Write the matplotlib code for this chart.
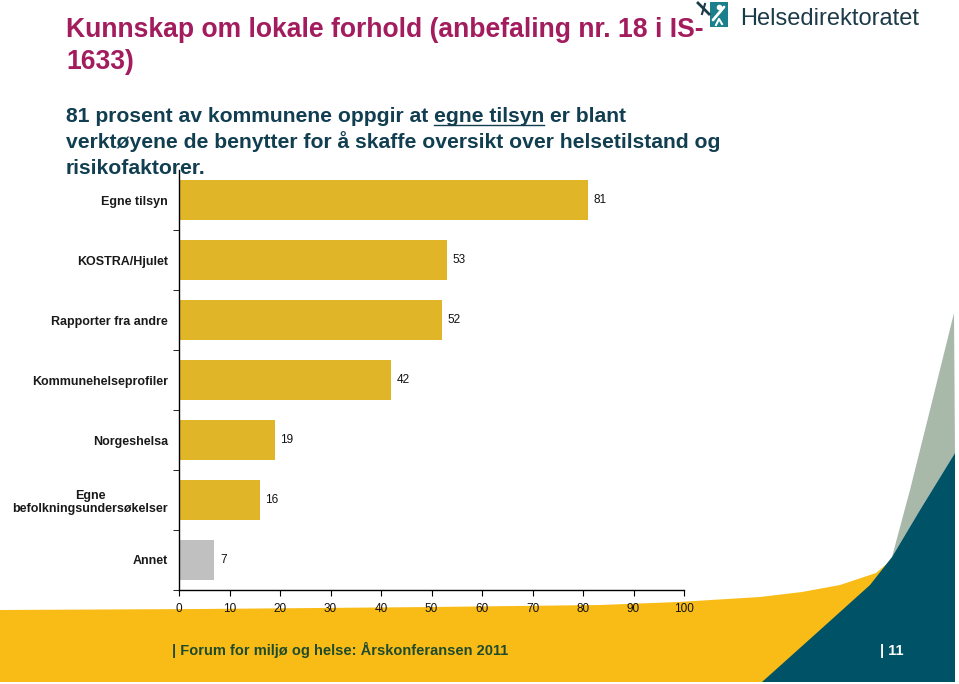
import matplotlib
matplotlib.use("Agg")
import matplotlib.pyplot as plt
from matplotlib.patches import Polygon, Rectangle
from matplotlib.ticker import FixedLocator

# data
categories = ["Egne tilsyn", "KOSTRA/Hjulet", "Rapporter fra andre",
              "Kommunehelseprofiler", "Norgeshelsa",
              "Egne\nbefolkningsundersøkelser", "Annet"]
values = [81, 53, 52, 42, 19, 16, 7]
bar_colors = ["#E0B628"] * 6 + ["#C0C0C0"]
xticks = list(range(0, 101, 10))

title_lines = ["Kunnskap om lokale forhold (anbefaling nr. 18 i IS-", "1633)"]
footer_left = "| Forum for miljø og helse: Årskonferansen 2011"
footer_right = "| 11"

font = ["Liberation Sans", "DejaVu Sans"]

W, H = 959, 684
fig = plt.figure(figsize=(W / 100, H / 100), dpi=100)

# background decoration in pixel coords
bg = fig.add_axes([0, 0, 1, 1], zorder=0)
bg.set_xlim(0, W)
bg.set_ylim(H, 0)
bg.axis("off")
yellow = [(0, 610), (200, 609), (432, 607), (600, 605), (678, 602), (760, 597),
          (802, 592), (840, 585), (876, 573), (895, 557), (955, 557), (955, 682), (0, 682)]
teal = [(762, 682), (820, 630), (870, 585), (892, 557), (920, 510), (955, 453), (955, 682)]
grey = [(892, 557), (910, 490), (930, 410), (954, 313), (955, 453), (920, 510)]
bg.add_patch(Polygon(yellow, closed=True, color="#F9BC17", lw=0))
bg.add_patch(Polygon(grey, closed=True, color="#A8B8A9", lw=0))
bg.add_patch(Polygon(teal, closed=True, color="#005366", lw=0))

# logo
bg.add_patch(Rectangle((710, 2), 18, 25, color="#1B7F8C", lw=0))
bg.plot([713, 719, 724], [20, 13, 7], color="white", lw=2, solid_capstyle="round")
bg.plot([716, 719, 722], [25, 19, 24], color="white", lw=1.5)
bg.plot([719], [7], "o", color="white", ms=3)
bg.plot([698, 704, 709], [3, 9, 14], color="#1D3A48", lw=2)
bg.plot([702, 705], [14, 4], color="#1D3A48", lw=1.5)
bg.text(740, 25, "Helsedirektoratet", fontsize=17, color="#1D3A48",
        family=font, va="baseline")

# title
for yb, line in zip([37, 69], title_lines):
    fig.text(66 / W, 1 - yb / H, line, fontsize=19.1, fontweight="bold",
             color="#A21C5E", family=font, va="baseline")

# body text with underlined phrase
body_col = "#113E50"
body_fs = 15.2
fig.canvas.draw()
r = fig.canvas.get_renderer()
parts = ["81 prosent av kommunene oppgir at ", "egne tilsyn", " er blant"]
x = 66
for i, p in enumerate(parts):
    t = fig.text(x / W, 1 - 122 / H, p, fontsize=body_fs, fontweight="bold",
                 color=body_col, family=font, va="baseline")
    bb = t.get_window_extent(r)
    if i == 1:
        bg.plot([x, x + bb.width], [125, 125], color=body_col, lw=1)
    x += bb.width
fig.text(66 / W, 1 - 148 / H,
         "verktøyene de benytter for å skaffe oversikt over helsetilstand og",
         fontsize=body_fs, fontweight="bold", color=body_col, family=font, va="baseline")
fig.text(66 / W, 1 - 174 / H, "risikofaktorer.", fontsize=body_fs, fontweight="bold",
         color=body_col, family=font, va="baseline")

# chart
ax = fig.add_axes([179 / W, 1 - 590 / H, (684 - 179) / W, 420 / H], zorder=2)
ax.patch.set_alpha(0)
ypos = list(range(len(categories)))
ax.barh(ypos, values, height=0.67, color=bar_colors)
ax.set_ylim(len(categories) - 0.5, -0.5)
ax.set_xlim(0, 100)
for y, v in zip(ypos, values):
    ax.annotate(str(v), (v, y), xytext=(4, 0), textcoords="offset points",
                va="center", ha="left", fontsize=8.5, family=font, color="#111111")
ax.set_xticks(xticks)
ax.set_xticklabels([str(t) for t in xticks], fontsize=8.5, family=font, color="#111111")
ax.set_yticks(ypos)
ax.set_yticklabels(categories, fontsize=9, fontweight="bold", family=font,
                   multialignment="center", color="#1A1A1A")
ax.yaxis.set_minor_locator(FixedLocator([i + 0.5 for i in ypos]))
ax.tick_params(axis="y", which="major", length=0, pad=8)
ax.tick_params(axis="y", which="minor", length=4, direction="out")
ax.tick_params(axis="x", length=4, direction="out", pad=5)
for s in ["top", "right"]:
    ax.spines[s].set_visible(False)
ax.spines["left"].set_linewidth(1)
ax.spines["bottom"].set_linewidth(1)

# footer
fig.text(172 / W, 1 - 655 / H, footer_left, fontsize=10.5, fontweight="bold",
         color="#1F4B2C", family=font, va="baseline")
fig.text(880 / W, 1 - 655 / H, footer_right, fontsize=10.5, fontweight="bold",
         color="white", family=font, va="baseline")

fig.savefig("out.png", dpi=100)
